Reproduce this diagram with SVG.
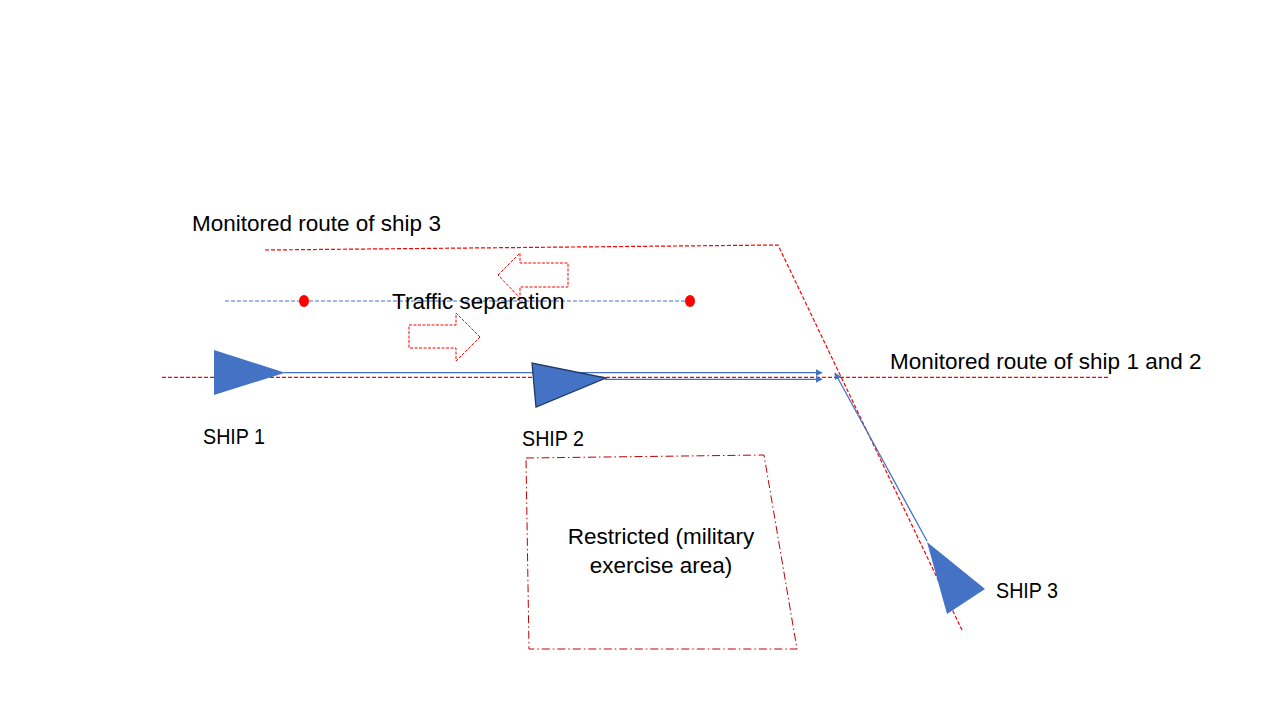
<svg xmlns="http://www.w3.org/2000/svg" width="1280" height="720" viewBox="0 0 1280 720">
<defs>
<style>
text{font-family:"Liberation Sans","Open Sans",sans-serif;font-size:22.5px;fill:#000}
.red{fill:none;stroke:#FF0000;stroke-width:1.2;stroke-dasharray:4 2}
.blue{fill:none;stroke:#4472C4;stroke-width:1.3}
.ship{fill:#4472C4}
</style>
<marker id="ah" viewBox="0 0 10 10" refX="9" refY="5" markerWidth="7" markerHeight="7" orient="auto" markerUnits="userSpaceOnUse">
<path d="M0,0 L10,5 L0,10 z" fill="#4472C4"/>
</marker>
</defs>
<rect width="1280" height="720" fill="#fff"/>
<g id="routes">
<polyline class="red" points="265,250 778,245 962,630"/>
<line class="red" x1="162" y1="377.3" x2="1108" y2="377.3"/>
<line x1="225" y1="301" x2="690" y2="301" stroke="#4472C4" stroke-width="1" stroke-dasharray="4 2"/>
<ellipse cx="304" cy="301" rx="5" ry="6" fill="#FF0000"/>
<ellipse cx="690" cy="301" rx="5" ry="6" fill="#FF0000"/>
</g>
<g id="separation-arrows" fill="none" stroke="#FF0000" stroke-width="1" stroke-dasharray="3 1.5">
<polygon points="498,275 520,253 520,263 568,263 568,287 520,287 520,298"/>
<polygon points="480,337 456,313 456,325 409,325 409,348 456,348 456,361"/>
</g>
<g id="restricted-area">
<polygon points="526,458 764,455 797,649 529,649" fill="none" stroke="#C00000" stroke-width="1" stroke-dasharray="8 3 1.5 3"/>
<text x="661" y="544" text-anchor="middle">Restricted (military</text>
<text x="661" y="573" text-anchor="middle">exercise area)</text>
</g>
<g id="connectors">
<line class="blue" x1="284" y1="372.7" x2="822" y2="372.7" marker-end="url(#ah)"/>
<line class="blue" x1="605" y1="379.3" x2="822" y2="379.3" marker-end="url(#ah)"/>
<line class="blue" x1="927" y1="541" x2="835" y2="373" marker-end="url(#ah)"/>
</g>
<g id="ship1">
<polygon class="ship" points="214,350 214,395 285,372.7"/>
<text x="203" y="444" textLength="62" lengthAdjust="spacingAndGlyphs">SHIP 1</text>
</g>
<g id="ship2">
<polygon class="ship" points="532,363 536,407 606,378" stroke="#1F3864" stroke-width="1.3"/>
<text x="522" y="446" textLength="62" lengthAdjust="spacingAndGlyphs">SHIP 2</text>
</g>
<g id="ship3">
<polygon class="ship" points="927,542 985,589 947,614"/>
<text x="996" y="598" textLength="62" lengthAdjust="spacingAndGlyphs">SHIP 3</text>
</g>
<g id="labels">
<text x="192" y="231">Monitored route of ship 3</text>
<text x="392" y="309">Traffic separation</text>
<text x="890" y="369">Monitored route of ship 1 and 2</text>
</g>
</svg>
